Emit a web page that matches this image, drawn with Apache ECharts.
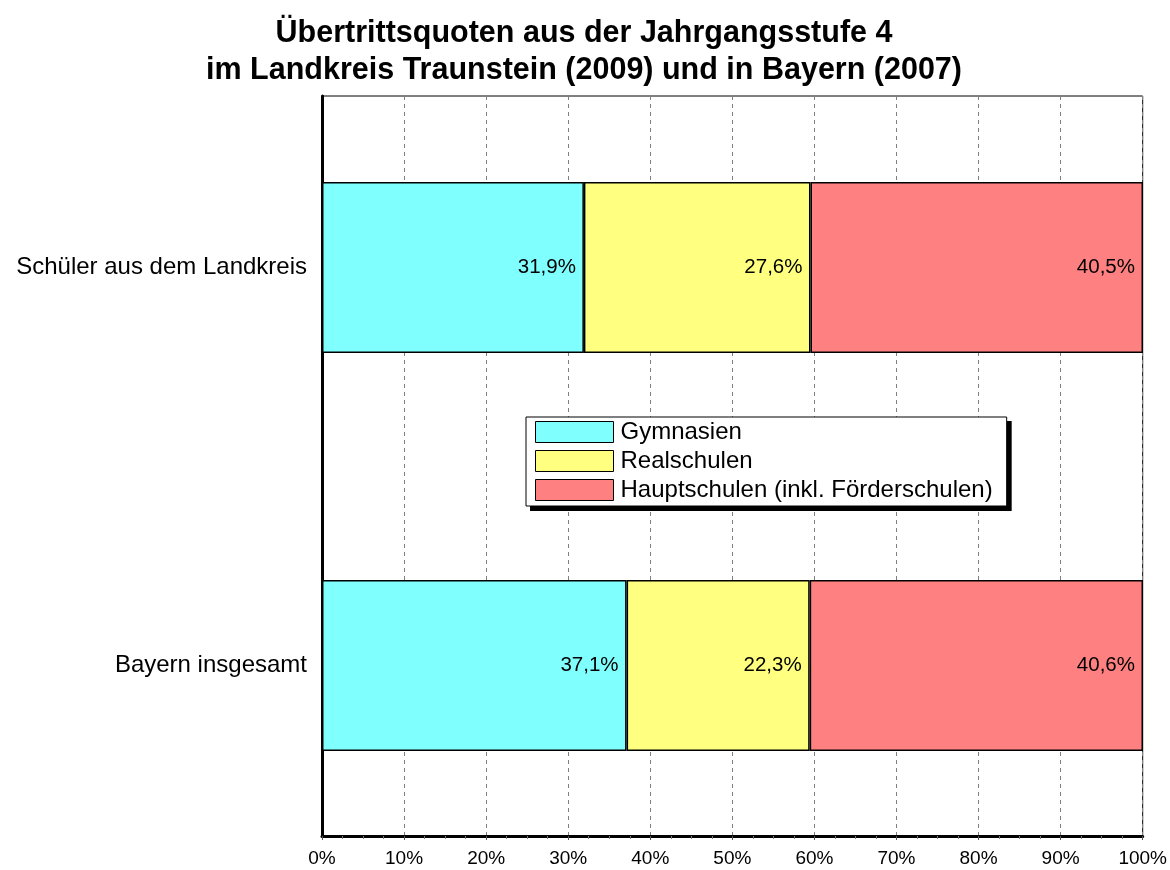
<!DOCTYPE html>
<html><head><meta charset="utf-8">
<script src="https://cdn.jsdelivr.net/npm/echarts@6/dist/echarts.min.js"></script>
<style>html,body{margin:0;padding:0;background:#fff}#c{width:1170px;height:870px}</style>
</head><body><div id="c"></div>
<script>
const titleText = 'Übertrittsquoten aus der Jahrgangsstufe 4\nim Landkreis Traunstein (2009) und in Bayern (2007)';
const categories = ['Schüler aus dem Landkreis', 'Bayern insgesamt'];
const seriesNames = ['Gymnasien', 'Realschulen', 'Hauptschulen (inkl. Förderschulen)'];
const gymnasien = [31.9, 37.1];
const realschulen = [27.6, 22.3];
const hauptschulen = [40.5, 40.6];
const seriesColors = ['#80ffff', '#ffff80', '#ff8080'];
const xMin = 0, xMax = 100, xStep = 10;

const FONT = "'Liberation Sans', Arial, sans-serif";
const values = [gymnasien, realschulen, hauptschulen];

const chart = echarts.init(document.getElementById('c'), null, {renderer: 'canvas'});
const fmt = p => p.value.toFixed(1).replace('.', ',') + '%';

const LEG = {x: 526, y: 417};

chart.setOption({
  animation: false,
  backgroundColor: '#fff',
  title: {
    text: titleText,
    left: 579, top: 10, textAlign: 'center',
    textStyle: {fontFamily: FONT, fontWeight: 'bold', fontSize: 30.5, lineHeight: 37, color: '#000'}
  },
  legend: {
    orient: 'vertical', left: LEG.x, top: LEG.y,
    padding: [3, 14, 4, 9], itemGap: 5, itemWidth: 78, itemHeight: 21,
    backgroundColor: '#fff', borderColor: '#000', borderWidth: 1,
    icon: 'rect', z: 10,
    itemStyle: {borderWidth: 1, borderColor: '#000'},
    textStyle: {fontFamily: FONT, fontSize: 24, color: '#000', padding: [0, 0, 0, 2]},
    data: seriesNames
  },
  grid: [
    {left: 322, right: 27, top: 68.5, height: 796},
    {left: 322, right: 27, top: 96, bottom: 34, show: true, borderColor: '#000', borderWidth: 1, backgroundColor: 'transparent'}
  ],
  xAxis: [
    {gridIndex: 0, type: 'value', min: xMin, max: xMax, show: false},
    {gridIndex: 1, type: 'value', min: xMin, max: xMax, interval: xStep,
     axisLine: {show: true, lineStyle: {color: '#000', width: 3}},
     axisTick: {show: true, length: 4, lineStyle: {color: '#555'}},
     minorTick: {show: true, splitNumber: 4, length: 3, lineStyle: {color: '#777'}},
     axisLabel: {formatter: '{value}%', fontFamily: FONT, fontSize: 19, color: '#000', margin: 13},
     splitLine: {show: true, lineStyle: {color: '#808080', type: [4, 4], width: 1}}
    }
  ],
  yAxis: [
    {gridIndex: 0, type: 'category', inverse: true, data: categories,
     axisLine: {show: false}, axisTick: {show: false}, splitLine: {show: false},
     axisLabel: {fontFamily: FONT, fontSize: 24, color: '#000', margin: 15}},
    {gridIndex: 1, type: 'value', min: 0, max: 1,
     axisLine: {show: true, lineStyle: {color: '#000', width: 3}},
     axisTick: {show: false}, axisLabel: {show: false}, splitLine: {show: false}}
  ],
  series: seriesNames.map((name, i) => ({
    name, type: 'bar', stack: 'total', xAxisIndex: 0, yAxisIndex: 0,
    barWidth: 171, data: values[i],
    itemStyle: {color: seriesColors[i], borderColor: '#000', borderWidth: 1.5},
    label: {show: true, position: 'insideRight', distance: 8, formatter: fmt,
            fontFamily: FONT, fontSize: 20.5, color: '#000'},
    z: 3
  }))
});

// solid drop shadow behind the legend box, sized from the rendered legend
const legView = chart.getViewOfComponentModel(chart.getModel().getComponent('legend'));
const r = legView.group.getBoundingRect();
chart.setOption({
  graphic: [{type: 'rect', z: 9, silent: true,
    shape: {x: LEG.x + 4, y: LEG.y + 4, width: r.width, height: r.height},
    style: {fill: '#000'}}]
});
</script></body></html>
